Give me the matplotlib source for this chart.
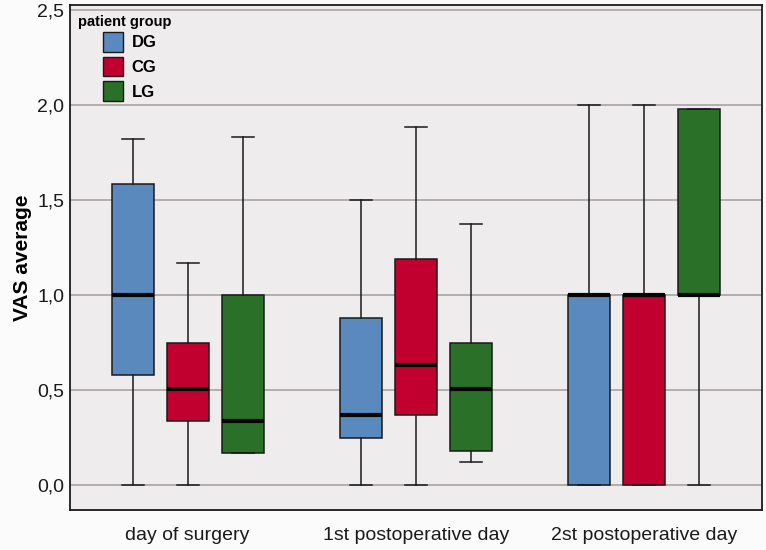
import matplotlib
matplotlib.use("Agg")
import matplotlib.pyplot as plt
from matplotlib.patches import Patch

plt.rcParams['font.family'] = ['Liberation Sans', 'DejaVu Sans']

days = ['day of surgery', '1st postoperative day', '2st postoperative day']
groups = ['DG', 'CG', 'LG']
colors = ['#5a8abd', '#c1002f', '#2a7029']

# per group: values for each day
whislo = {'DG': [0.0, 0.0, 0.0], 'CG': [0.0, 0.0, 0.0], 'LG': [0.17, 0.12, 0.0]}
q1 = {'DG': [0.58, 0.25, 0.0], 'CG': [0.335, 0.37, 0.0], 'LG': [0.17, 0.18, 1.0]}
med = {'DG': [1.0, 0.37, 1.0], 'CG': [0.505, 0.63, 1.0], 'LG': [0.335, 0.505, 1.0]}
q3 = {'DG': [1.585, 0.88, 1.0], 'CG': [0.745, 1.19, 1.0], 'LG': [1.0, 0.745, 1.98]}
whishi = {'DG': [1.82, 1.50, 2.0], 'CG': [1.17, 1.885, 2.0], 'LG': [1.83, 1.375, 1.98]}

yticks = [0.0, 0.5, 1.0, 1.5, 2.0, 2.5]
ytick_labels = ['0,0', '0,5', '1,0', '1,5', '2,0', '2,5']

fig = plt.figure(figsize=(7.66, 5.5), dpi=100)
fig.patch.set_facecolor('#fbfbfb')
ax = fig.add_axes([0.0914, 0.0727, 0.9034, 0.9182])
ax.set_facecolor('#eeecec')

offsets = [-0.241, 0.0, 0.241]
width = 0.184
for gi, g in enumerate(groups):
    stats = []
    for d in range(len(days)):
        stats.append(dict(whislo=whislo[g][d], q1=q1[g][d], med=med[g][d],
                          q3=q3[g][d], whishi=whishi[g][d], fliers=[]))
    pos = [d + offsets[gi] for d in range(len(days))]
    ax.bxp(stats, positions=pos, widths=width, capwidths=0.096,
           showfliers=False, patch_artist=True,
           boxprops=dict(facecolor=colors[gi], edgecolor='#1a1a1a', linewidth=1.1),
           whiskerprops=dict(color='#1a1a1a', linewidth=1.1),
           capprops=dict(color='#1a1a1a', linewidth=1.1),
           medianprops=dict(color='#050505', linewidth=3.0, solid_capstyle='butt'),
           manage_ticks=False, zorder=3)

ax.set_xlim(-0.515, 2.515)
ax.set_ylim(-0.1316, 2.526)
ax.set_yticks(yticks)
ax.set_yticklabels(ytick_labels)
ax.set_xticks(range(len(days)))
ax.set_xticklabels(days)
ax.tick_params(axis='both', length=0, labelsize=14, colors='#1a1a1a')
ax.tick_params(axis='y', pad=4)
ax.tick_params(axis='x', pad=12)
ax.yaxis.grid(True, color='#b3adac', linewidth=1.4)
ax.set_axisbelow(True)
for s in ax.spines.values():
    s.set_linewidth(1.3)
    s.set_color('#1a1a1a')

ax.set_ylabel('VAS average', fontsize=15, fontweight='bold', labelpad=4)

ax.text(0.012, 0.966, 'patient group', transform=ax.transAxes, fontsize=10.5,
        fontweight='bold', ha='left', va='center')
handles = [Patch(facecolor=c, edgecolor='#1a1a1a', linewidth=1.0) for c in colors]
leg = ax.legend(handles, groups, loc='upper left', bbox_to_anchor=(0.047, 0.946),
                frameon=False, borderpad=0, borderaxespad=0,
                handlelength=1.2, handleheight=1.4, handletextpad=0.55,
                labelspacing=0.32, prop=dict(size=12, weight='bold'))

fig.savefig('out.png', dpi=100, facecolor=fig.get_facecolor())
